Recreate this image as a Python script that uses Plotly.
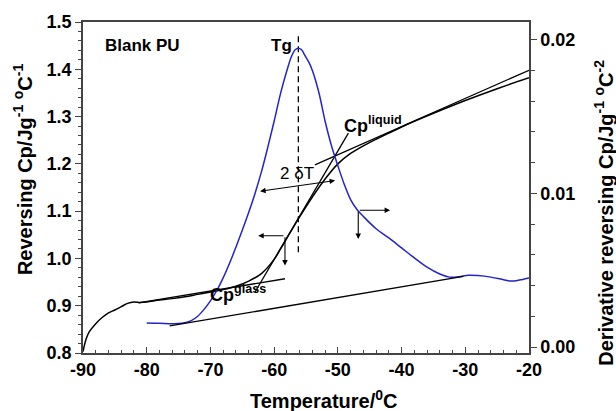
import plotly.graph_objects as go

# ---------------- data ----------------
# Reversing Cp (left axis)
cp_T = [-90, -89.5, -89, -88, -87, -86, -85, -84, -83, -82, -81, -80, -78, -76, -74, -72, -70,
        -68, -66, -64, -62, -60, -59, -58, -56, -54, -52, -50, -48, -46, -44, -42, -40, -38,
        -35, -30, -25, -20]
cp_v = [0.803, 0.830, 0.845, 0.862, 0.875, 0.885, 0.891, 0.898, 0.905, 0.908, 0.907, 0.908,
        0.912, 0.915, 0.919, 0.924, 0.929, 0.934, 0.941, 0.952, 0.968, 0.998, 1.020, 1.043,
        1.088, 1.130, 1.168, 1.200, 1.222, 1.238, 1.252, 1.265, 1.278, 1.290, 1.307, 1.334,
        1.359, 1.382]

# Derivative of reversing Cp (right axis)
d_T = [-80, -78, -76, -74.5, -73, -72, -71, -70, -69, -68, -67, -66, -65, -64, -63, -62, -61,
       -60, -59, -58, -57.3, -56.7, -56.2, -55.7, -55.2, -54.5, -54, -53, -52, -51, -50, -49,
       -48, -47, -46, -44, -42, -40, -38, -36, -34, -32.5, -31, -29.5, -28, -26, -24, -23,
       -22, -21, -20]
d_v = [0.00157, 0.00155, 0.00152, 0.00155, 0.00172, 0.00200, 0.00245, 0.00300, 0.00368,
       0.00450, 0.00545, 0.00650, 0.00760, 0.00875, 0.01000, 0.01140, 0.01300, 0.01470,
       0.01650, 0.01800, 0.01890, 0.01935, 0.01945, 0.01935, 0.01900, 0.01850, 0.01800,
       0.01660, 0.01470, 0.01310, 0.01180, 0.01060, 0.00960, 0.00895, 0.00850, 0.00770,
       0.00710, 0.00645, 0.00580, 0.00520, 0.00475, 0.00455, 0.00458, 0.00467, 0.00465,
       0.00455, 0.00438, 0.00430, 0.00432, 0.00440, 0.00449]

# construction lines
glass_T = [-81.3, -58.3]
glass_v = [0.906, 0.957]
liquid_T = [-53.6, -20]
liquid_v = [1.198, 1.398]
inflect_T = [-63.0, -48.35]
inflect_v = [0.929, 1.265]
base_T = [-76.4, -30.3]
base_v = [0.00137, 0.0046]
tg_T = [-56.2, -56.2]
tg_v = [1.013, 1.47]

# tick labels
x_ticks = [-90, -80, -70, -60, -50, -40, -30, -20]
x_labels = ["-90", "-80", "-70", "-60", "-50", "-40", "-30", "-20"]
y_ticks = [0.8, 0.9, 1.0, 1.1, 1.2, 1.3, 1.4, 1.5]
y_labels = ["0.8", "0.9", "1.0", "1.1", "1.2", "1.3", "1.4", "1.5"]
y2_ticks = [0.0, 0.01, 0.02]
y2_labels = ["0.00", "0.01", "0.02"]

FONT = "Liberation Sans, Arial, Helvetica, sans-serif"
AX = "#444444"
BLUE = "#2424cc"

fig = go.Figure()
fig.add_trace(go.Scatter(x=cp_T, y=cp_v, mode="lines", line=dict(color="black", width=1.5),
                         line_shape="spline", showlegend=False))
for tx, tv in [(glass_T, glass_v), (liquid_T, liquid_v), (inflect_T, inflect_v)]:
    fig.add_trace(go.Scatter(x=tx, y=tv, mode="lines", line=dict(color="black", width=1.3),
                             showlegend=False))
fig.add_trace(go.Scatter(x=tg_T, y=tg_v, mode="lines",
                         line=dict(color="black", width=1.3, dash="6px,4px"), showlegend=False))
fig.add_trace(go.Scatter(x=d_T, y=d_v, mode="lines", line=dict(color=BLUE, width=1.5),
                         line_shape="spline", yaxis="y2", showlegend=False))
fig.add_trace(go.Scatter(x=base_T, y=base_v, mode="lines", line=dict(color="black", width=1.3),
                         yaxis="y2", showlegend=False))

bold = dict(family=FONT, size=18, color="black", weight="bold")

fig.update_layout(
    width=616, height=411,
    margin=dict(l=83, r=87, t=19, b=58),
    paper_bgcolor="white", plot_bgcolor="white",
    xaxis=dict(range=[-90, -20], tickvals=x_ticks, ticktext=x_labels, ticks="inside",
               ticklen=6, tickwidth=1.3, tickcolor=AX, showline=True, linecolor=AX,
               linewidth=1.5, mirror=True, showgrid=False, zeroline=False, tickfont=bold,
               minor=dict(dtick=2, ticks="inside", ticklen=3, tickcolor=AX, showgrid=False)),
    yaxis=dict(range=[0.8, 1.5], tickvals=y_ticks, ticktext=y_labels, ticks="outside",
               ticklen=6, tickwidth=1.3, tickcolor=AX, showline=True, linecolor=AX,
               linewidth=1.5, showgrid=False, zeroline=False, tickfont=bold,
               minor=dict(dtick=0.02, ticks="outside", ticklen=3, tickcolor=AX, showgrid=False)),
    yaxis2=dict(range=[-0.00039, 0.02116], overlaying="y", side="right", tickvals=y2_ticks,
                ticktext=y2_labels, ticks="outside", ticklen=6, tickwidth=1.3, tickcolor=AX,
                showline=True, linecolor=AX, linewidth=1.5, showgrid=False, zeroline=False,
                tickfont=bold,
                minor=dict(dtick=0.002, ticks="outside", ticklen=4, tickcolor=AX,
                           showgrid=False)),
)

ann = []
title_font = dict(family=FONT, size=20, color="black", weight="bold")
ann.append(dict(text="Temperature/<sup>0</sup>C", x=0.54, y=-0.14, xref="paper", yref="paper",
                showarrow=False, font=title_font, xanchor="center", yanchor="middle"))
ann.append(dict(text="Reversing Cp/Jg<sup>-1</sup> <sup>o</sup>C<sup>-1</sup>",
                x=-0.135, y=0.555, xref="paper", yref="paper", textangle=-90,
                showarrow=False, font=title_font, xanchor="center", yanchor="middle"))
ann.append(dict(text="Derivative reversing Cp/Jg<sup>-1</sup> <sup>o</sup>C<sup>-2</sup>",
                x=1.167, y=0.425, xref="paper", yref="paper", textangle=-90,
                showarrow=False, font=title_font, xanchor="center", yanchor="middle"))

ann.append(dict(text="Blank PU", x=-80.7, y=1.451, showarrow=False,
                font=dict(family=FONT, size=17, color="black", weight="bold")))
ann.append(dict(text="Tg", x=-58.8, y=1.451, showarrow=False,
                font=dict(family=FONT, size=17, color="black", weight="bold")))
ann.append(dict(text="2 δT", x=-56.4, y=1.180, showarrow=False,
                font=dict(family=FONT, size=17, color="black")))
ann.append(dict(text="Cp<sup>liquid</sup>", x=-49.3, y=1.283, showarrow=False, xanchor="left",
                font=dict(family=FONT, size=18, color="black", weight="bold")))
ann.append(dict(text="Cp<sup>glass</sup>", x=-65.7, y=0.926, showarrow=False, xanchor="center",
                font=dict(family=FONT, size=18, color="black", weight="bold")))

arrow = dict(showarrow=True, arrowhead=2, arrowsize=1, arrowwidth=1.1, arrowcolor="black",
             text="", axref="x", standoff=0, startstandoff=0)
# 2 delta T double arrow
ann.append(dict(arrow, x=-62.2, y=1.142, ax=-50.2, ay=1.165, ayref="y", arrowside="end+start"))
# left-curve arrows
ann.append(dict(arrow, x=-62.5, y=1.048, ax=-58.3, ay=1.048, ayref="y"))
ann.append(dict(arrow, x=-58.3, y=0.985, ax=-58.3, ay=1.048, ayref="y"))
# right-curve arrows
ann.append(dict(arrow, x=-41.8, y=0.0089, ax=-46.8, ay=0.0089, yref="y2", ayref="y2"))
ann.append(dict(arrow, x=-46.8, y=0.00703, ax=-46.8, ay=0.0089, yref="y2", ayref="y2"))

fig.update_layout(annotations=ann)
fig.write_html("out.html")
